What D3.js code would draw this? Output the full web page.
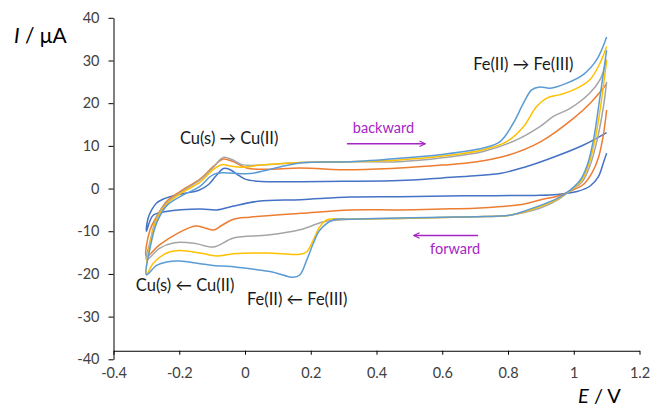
<!DOCTYPE html>
<html>
<head>
<meta charset="utf-8">
<script src="https://cdn.jsdelivr.net/npm/d3@7"></script>
<style>
  html, body { margin: 0; padding: 0; background: #fff; }
  svg { display: block; font-family: Lato, "Liberation Sans", sans-serif; }
</style>
</head>
<body>
<svg id="chart" width="653" height="409"></svg>
<script>
// Axis ticks
const xTicks = [-0.4, -0.2, 0, 0.2, 0.4, 0.6, 0.8, 1, 1.2];
const yTicks = [-40, -30, -20, -10, 0, 10, 20, 30, 40];

// Cyclic voltammograms: [E / V, I / µA], in scan order
// (reverse sweep from the anodic vertex down to -0.3 V, then back up to 1.1 V)
const cv1 = [
  [1.1, 8.3], [1.09, 6.0], [1.075, 2.8], [1.05, 0.6], [1.01, -0.7], [0.95, -1.4], [0.88, -1.6],
  [0.67, -1.7], [0.47, -1.9], [0.32, -2.0], [0.17, -2.6], [0.04, -3.0], [-0.035, -4.1],
  [-0.085, -5.0], [-0.135, -4.8], [-0.24, -5.4], [-0.28, -6.3], [-0.3, -10.0],
  [-0.295, -7.0], [-0.284, -5.0], [-0.269, -3.4], [-0.25, -2.5], [-0.228, -1.9], [-0.19, -1.2],
  [-0.14, -0.4], [-0.11, 1.0], [-0.09, 2.8], [-0.065, 4.7], [-0.045, 4.4], [-0.025, 3.4],
  [0.0, 2.2], [0.04, 1.7], [0.1, 1.6], [0.3, 1.7], [0.47, 1.9], [0.6, 2.5], [0.7, 3.0],
  [0.78, 3.6], [0.85, 5.0], [0.93, 7.1], [1.03, 10.2], [1.1, 13.1]
];
const cv2 = [
  [1.1, 18.4], [1.09, 12.5], [1.075, 7.2], [1.055, 3.6], [1.03, 1.0], [0.99, -0.6], [0.95, -1.8],
  [0.9, -2.6], [0.85, -3.6], [0.78, -4.2], [0.7, -4.6], [0.6, -4.8], [0.47, -5.0], [0.32, -5.0],
  [0.17, -5.8], [0.015, -6.7], [-0.035, -7.2], [-0.07, -8.6], [-0.095, -9.7], [-0.12, -9.3],
  [-0.15, -8.8], [-0.205, -10.5], [-0.26, -13.2], [-0.3, -15.9],
  [-0.289, -9.7], [-0.269, -6.6], [-0.238, -3.0], [-0.198, -0.7], [-0.137, 2.2], [-0.096, 5.2],
  [-0.066, 6.9], [-0.036, 6.3], [0.005, 4.8], [0.066, 4.5], [0.167, 4.8], [0.32, 4.4],
  [0.47, 4.8], [0.6, 5.5], [0.7, 6.2], [0.8, 7.8], [0.9, 11.0], [1.0, 16.5], [1.05, 20.0], [1.1, 24.5]
];
const cv3 = [
  [1.1, 25.0], [1.09, 19.0], [1.07, 11.0], [1.05, 5.5], [1.025, 1.5], [0.99, -0.5], [0.95, -2.7],
  [0.9, -4.5], [0.85, -5.6], [0.8, -6.3], [0.7, -6.6], [0.6, -6.8], [0.47, -7.0], [0.32, -7.2],
  [0.24, -7.8], [0.17, -9.6], [0.07, -10.9], [-0.035, -11.6], [-0.095, -13.7], [-0.155, -12.8],
  [-0.215, -12.7], [-0.26, -14.0], [-0.3, -16.7],
  [-0.289, -12.5], [-0.269, -6.8], [-0.238, -3.3], [-0.188, -0.5], [-0.137, 2.0], [-0.096, 5.0],
  [-0.066, 7.3], [-0.04, 6.8], [-0.01, 5.6], [0.05, 5.5], [0.17, 6.1], [0.32, 6.3], [0.47, 6.3],
  [0.6, 7.2], [0.725, 8.7], [0.826, 11.4], [0.897, 14.5], [0.938, 16.9], [0.989, 18.8],
  [1.049, 22.4], [1.08, 25.5], [1.1, 30.2]
];
const cv4 = [
  [1.1, 30.0], [1.085, 21.0], [1.065, 11.5], [1.045, 5.5], [1.02, 1.5], [0.99, -0.4], [0.95, -2.5],
  [0.93, -3.2], [0.86, -5.2], [0.8, -6.3], [0.7, -6.6], [0.6, -6.8], [0.47, -7.0], [0.32, -7.2],
  [0.25, -7.3], [0.228, -8.9], [0.208, -12.0], [0.188, -14.8], [0.167, -15.4], [0.066, -15.1],
  [-0.036, -15.3], [-0.086, -15.8], [-0.137, -15.1], [-0.198, -14.5], [-0.238, -15.1],
  [-0.279, -17.5], [-0.3, -20.2],
  [-0.289, -13.0], [-0.269, -7.3], [-0.238, -3.6], [-0.188, -0.8], [-0.137, 1.5], [-0.096, 4.5],
  [-0.071, 5.6], [-0.04, 5.2], [-0.01, 5.0], [0.05, 5.5], [0.17, 6.1], [0.32, 6.3], [0.47, 6.7],
  [0.6, 7.6], [0.725, 9.1], [0.796, 11.0], [0.847, 14.5], [0.887, 19.2], [0.918, 21.2],
  [0.958, 22.0], [0.999, 23.1], [1.049, 25.5], [1.08, 29.4], [1.1, 33.3]
];
const cv5 = [
  [1.1, 32.4], [1.08, 21.6], [1.06, 11.4], [1.04, 5.2], [1.02, 2.0], [0.99, -0.3], [0.95, -2.3],
  [0.93, -3.0], [0.86, -5.0], [0.81, -6.2], [0.7, -6.6], [0.6, -6.7], [0.47, -6.9], [0.32, -7.2],
  [0.27, -7.3], [0.228, -9.7], [0.208, -12.8], [0.188, -16.7], [0.167, -20.2], [0.147, -20.8],
  [0.086, -19.6], [0.015, -18.8], [-0.036, -18.3], [-0.096, -18.0], [-0.137, -17.6],
  [-0.198, -17.0], [-0.238, -17.2], [-0.269, -18.0], [-0.3, -20.2],
  [-0.289, -14.0], [-0.269, -8.1], [-0.238, -4.0], [-0.188, -1.5], [-0.137, 0.5], [-0.106, 2.8],
  [-0.085, 3.6], [0.015, 3.5], [0.066, 4.3], [0.167, 6.0], [0.32, 6.3], [0.47, 7.1], [0.6, 8.0],
  [0.725, 9.5], [0.776, 11.0], [0.816, 15.3], [0.847, 20.0], [0.872, 23.1], [0.897, 23.8],
  [0.928, 23.5], [0.979, 24.7], [1.029, 26.7], [1.07, 30.2], [1.1, 35.5]
];

const seriesList = [cv1, cv2, cv3, cv4, cv5];
const seriesColors = ["#4472C4", "#ED7D31", "#A5A5A5", "#FFC000", "#5B9BD5"];

const svg = d3.select("#chart");

const x = d3.scaleLinear().domain([-0.4, 1.2]).range([113.5, 639.5]);
const y = d3.scaleLinear().domain([-40, 40]).range([359.3, 17.8]);

const tickFmt = d => String(d);

// Horizontal axis sits slightly above the bottom of the value axis
const gx = svg.append("g")
  .attr("transform", `translate(0,${y(-38)})`)
  .call(d3.axisBottom(x).tickValues(xTicks).tickSize(4).tickSizeOuter(0).tickPadding(13).tickFormat(tickFmt));

const gy = svg.append("g")
  .attr("transform", `translate(${x(-0.4)},0)`)
  .call(d3.axisLeft(y).tickValues(yTicks).tickSize(5).tickSizeOuter(0).tickPadding(9).tickFormat(tickFmt));

[gx, gy].forEach(g => {
  g.selectAll("path.domain").attr("stroke", "#000").attr("stroke-width", 1);
  g.selectAll(".tick line").attr("stroke", "#000").attr("stroke-width", 1);
  g.selectAll(".tick text")
    .attr("fill", "#404040")
    .style("font-family", "Lato, 'Liberation Sans', sans-serif")
    .style("font-size", "14.5px");
});

// Curves
const line = d3.line()
  .x(d => x(d[0]))
  .y(d => y(d[1]))
  .curve(d3.curveCatmullRom.alpha(0.5));

svg.append("g")
  .selectAll("path")
  .data(seriesList)
  .join("path")
  .attr("d", line)
  .attr("fill", "none")
  .attr("stroke", (d, i) => seriesColors[i])
  .attr("stroke-width", 1.5)
  .attr("stroke-linejoin", "round");

// Axis titles
const yTitle = svg.append("text")
  .attr("x", 14).attr("y", 43)
  .attr("fill", "#000")
  .style("font-size", "21px");
yTitle.append("tspan").style("font-style", "italic").text("I");
yTitle.append("tspan").text(" / μA");

const xTitle = svg.append("text")
  .attr("x", 578).attr("y", 403)
  .attr("fill", "#000")
  .style("font-size", "20px");
xTitle.append("tspan").style("font-style", "italic").text("E");
xTitle.append("tspan").text(" / V");

// Redox annotations (placed in data units)
const notes = [
  { text: "Cu(s) → Cu(II)", e: -0.198, i: 10.5 },
  { text: "Cu(s) ← Cu(II)", e: -0.332, i: -24.0 },
  { text: "Fe(II) ← Fe(III)", e: 0.006, i: -27.3 },
  { text: "Fe(II) → Fe(III)", e: 0.694, i: 27.8 }
];
svg.append("g")
  .selectAll("text")
  .data(notes)
  .join("text")
  .attr("x", d => x(d.e))
  .attr("y", d => y(d.i))
  .attr("fill", "#1a1a1a")
  .style("font-size", "16.5px")
  .text(d => d.text);

// Scan-direction arrows
const purple = "#A526C4";
const defs = svg.append("defs");
defs.append("marker")
  .attr("id", "head")
  .attr("viewBox", "0 0 10 10")
  .attr("refX", 9).attr("refY", 5)
  .attr("markerWidth", 7).attr("markerHeight", 7)
  .attr("markerUnits", "userSpaceOnUse")
  .attr("orient", "auto")
  .append("path")
  .attr("d", "M1,1 L9,5 L1,9")
  .attr("fill", "none")
  .attr("stroke", purple)
  .attr("stroke-width", 1.6);

const arrows = [
  { label: "backward", e0: 0.31, e1: 0.548, i: 10.5, le: 0.328, li: 13.1 },
  { label: "forward", e0: 0.709, e1: 0.514, i: -11.0, le: 0.563, li: -15.3 }
];
arrows.forEach(a => {
  svg.append("line")
    .attr("x1", x(a.e0)).attr("y1", y(a.i))
    .attr("x2", x(a.e1)).attr("y2", y(a.i))
    .attr("stroke", purple)
    .attr("stroke-width", 1.6)
    .attr("marker-end", "url(#head)");
  svg.append("text")
    .attr("x", x(a.le)).attr("y", y(a.li))
    .attr("fill", purple)
    .style("font-size", "14.5px")
    .text(a.label);
});
</script>
</body>
</html>
